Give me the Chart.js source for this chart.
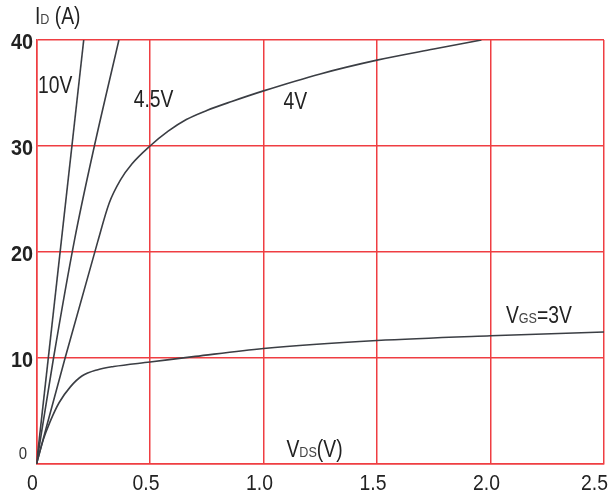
<!DOCTYPE html>
<html>
<head>
<meta charset="utf-8">
<script src="https://cdn.jsdelivr.net/npm/chart.js@4/dist/chart.umd.min.js"></script>
<style>
  body { margin: 0; background: #fff; }
  #myChart { display: block; }
</style>
</head>
<body>
<canvas id="myChart" width="608" height="499"></canvas>
<script>
// axis ticks
let xTicks = [0, 0.5, 1.0, 1.5, 2.0, 2.5];
let xTickLabels = ['0', '0.5', '1.0', '1.5', '2.0', '2.5'];
let yTicks = [0, 10, 20, 30, 40];
let yTickLabels = ['0', '10', '20', '30', '40'];

// VGS = 10V
let vds10 = [0, 0.208];
let id10 = [0, 40];
// VGS = 4.5V
let vds45 = [0, 0.075, 0.168, 0.255, 0.363];
let id45 = [0, 10, 21.2, 30, 40];
// VGS = 4V
let vds4 = [0, 0.126, 0.27, 0.32, 0.37, 0.42, 0.5, 0.58, 0.66, 0.75, 0.86, 1.0, 1.25, 1.5, 1.75, 1.96];
let id4 = [0, 10, 21, 24.6, 26.8, 28.3, 30, 31.4, 32.5, 33.35, 34.2, 35.2, 36.8, 38.1, 39.15, 40];
// VGS = 3V
let vds3 = [0, 0.03, 0.06, 0.1, 0.15, 0.2, 0.27, 0.34, 0.5, 0.7, 1.0, 1.5, 2.0, 2.5];
let id3 = [0, 2.3, 4.0, 5.8, 7.3, 8.3, 8.9, 9.2, 9.62, 10.15, 10.9, 11.65, 12.1, 12.45];

const FONT = "'Liberation Sans', Arial, sans-serif";
const RED = '#ef3e42';
const CURVE = '#3b3e44';

function pts(xs, ys) {
    return xs.map((x, i) => ({ x: x, y: ys[i] }));
}

function curve(label, xs, ys) {
    return {
        label: label,
        data: pts(xs, ys),
        borderColor: CURVE,
        borderWidth: 1.6,
        pointRadius: 0,
        fill: false,
        tension: 0.4,
        cubicInterpolationMode: 'monotone'
    };
}

// text on the plot, placed in data units; parts = [text, size]
let notes = [
    { x: -0.007, y: 42.25, parts: [['I', 23], ['D', 15], [' (A)', 23]] },
    { x: 0.007, y: 35.8, parts: [['10V', 23]] },
    { x: 0.428, y: 34.4, parts: [['4.5V', 23]] },
    { x: 1.088, y: 34.2, parts: [['4V', 23]] },
    { x: 2.068, y: 14.1, parts: [['V', 23], ['GS', 15], ['=3V', 23]] },
    { x: 1.101, y: 1.42, parts: [['V', 23], ['DS', 15], ['(V)', 23]] }
];

// squeezed text, the reference uses a narrow face
function narrowText(ctx, text, x, y, sx) {
    ctx.save();
    ctx.translate(x, y);
    ctx.scale(sx, 1);
    ctx.fillText(text, 0, 0);
    ctx.restore();
    return ctx.measureText(text).width * sx;
}

let textPlugin = {
    id: 'textPlugin',
    afterDraw(chart) {
        let ctx = chart.ctx;
        let xs = chart.scales.x, ys = chart.scales.y;
        ctx.save();
        ctx.textBaseline = 'alphabetic';

        // notes
        for (let n of notes) {
            let px = xs.getPixelForValue(n.x);
            let py = ys.getPixelForValue(n.y) + 8;
            ctx.textAlign = 'left';
            for (let p of n.parts) {
                ctx.font = p[1] + 'px ' + FONT;
                ctx.fillStyle = p[1] < 20 ? '#444' : '#222';
                px += narrowText(ctx, p[0], px, py, 0.84);
            }
        }

        // x tick labels
        ctx.font = '22px ' + FONT;
        ctx.fillStyle = '#222';
        ctx.textBaseline = 'middle';
        xTicks.forEach((v, i) => {
            let px = xs.getPixelForValue(v) - 4;
            let w = ctx.measureText(xTickLabels[i]).width * 0.88;
            ctx.textAlign = 'center';
            if (px + w / 2 > chart.width) {
                ctx.textAlign = 'right';
                px = chart.width;
            }
            narrowText(ctx, xTickLabels[i], px, ys.bottom + 20, 0.88);
        });

        // y tick labels
        ctx.textAlign = 'right';
        yTicks.forEach((v, i) => {
            let py = ys.getPixelForValue(v);
            if (v === 0) {
                ctx.font = '17px ' + FONT;
                ctx.fillStyle = '#333';
                narrowText(ctx, yTickLabels[i], 27, py - 10, 0.88);
            } else {
                ctx.font = 'bold 22px ' + FONT;
                ctx.fillStyle = '#222';
                narrowText(ctx, yTickLabels[i], 33, py + 3, 0.9);
            }
        });
        ctx.restore();
    }
};

let myChart = document.getElementById('myChart').getContext('2d');
let idChart = new Chart(myChart, {
    type: 'line',
    data: {
        datasets: [
            curve('10V', vds10, id10),
            curve('4.5V', vds45, id45),
            curve('4V', vds4, id4),
            curve('3V', vds3, id3)
        ]
    },
    options: {
        responsive: false,
        animation: false,
        layout: {
            padding: { top: 40, right: 4, left: 0, bottom: 0 }
        },
        plugins: {
            legend: { display: false },
            tooltip: { enabled: false }
        },
        scales: {
            x: {
                type: 'linear',
                min: 0,
                max: 2.5,
                afterFit: s => { s.height = 35; },
                afterBuildTicks: s => { s.ticks = xTicks.map(v => ({ value: v })); },
                ticks: { display: false },
                grid: { color: RED, lineWidth: 1.5, drawTicks: false },
                border: { color: RED, width: 1.5 }
            },
            y: {
                min: 0,
                max: 40,
                afterFit: s => { s.width = 36.5; },
                afterBuildTicks: s => { s.ticks = yTicks.map(v => ({ value: v })); },
                ticks: { display: false },
                grid: { color: RED, lineWidth: 1.5, drawTicks: false },
                border: { color: RED, width: 1.5 }
            }
        }
    },
    plugins: [textPlugin]
});
</script>
</body>
</html>
